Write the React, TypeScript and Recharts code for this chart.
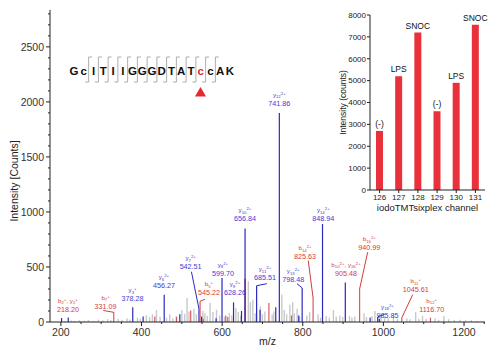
import React from 'react';
import {
  ScatterChart,
  Scatter,
  XAxis,
  YAxis,
  ErrorBar,
  ReferenceLine,
  BarChart,
  Bar,
  LabelList,
} from 'recharts';

const FONT = "'Liberation Sans', Arial, Helvetica, sans-serif";
const AXIS = '#222';
const GRAY = '#c9c9c9';
const BLUE = '#2a2abf';
const RED = '#dc5a5a';
const PURPLE = '#6a1d7c';
const BLUE_TXT = '#3c3cd2';
const RED_TXT = '#d23c3c';
const BAR_RED = '#e8313a';

// ---------------- spectrum data: [m/z, intensity] ----------------
const grayPeaks: [number, number][] = [
  [210, 8], [226, 14], [234, 10], [246, 16], [258, 12], [268, 18], [281, 10], [293, 22],
  [305, 14], [316, 26], [324, 18], [342, 30], [352, 20], [364, 34], [371, 22], [390, 40],
  [397, 30], [412, 60], [420, 45], [427, 70], [437, 110], [446, 50], [462, 40], [470, 70],
  [478, 35], [486, 55], [500, 110], [507, 75], [513, 218], [518, 95], [530, 120], [536, 70],
  [552, 100], [557, 80], [563, 55], [570, 173], [577, 90], [586, 112], [594, 60], [606, 50],
  [618, 80], [624, 60], [634, 127], [640, 90], [646, 60], [665, 369], [670, 180], [676, 200],
  [682, 80], [695, 142], [700, 70], [706, 96], [724, 70], [728, 95], [748, 250], [754, 110],
  [760, 70], [768, 157], [775, 180], [779, 80], [786, 120], [792, 50], [810, 60], [817, 90],
  [838, 70], [844, 40], [858, 55], [866, 40], [876, 110], [883, 50], [892, 60], [899, 45],
  [916, 55], [922, 40], [929, 50], [952, 80], [958, 45], [972, 55], [979, 100], [994, 50],
  [1003, 45], [1012, 35], [1025, 75], [1035, 30], [1058, 35], [1066, 25], [1080, 90],
  [1088, 30], [1097, 55], [1106, 30], [1128, 35], [1137, 20], [1150, 55], [1162, 25],
  [1176, 18], [1190, 20], [1204, 14], [1218, 16], [1232, 10],
];

const bluePeaks: [number, number][] = [
  [201.7, 36], [218.2, 42], [378.28, 133], [404, 51], [456.27, 248], [495, 70], [542.51, 120],
  [549, 50], [585, 35], [599.7, 400], [628.26, 178], [648, 100], [656.84, 850], [685.51, 330],
  [694, 112], [733, 133], [741.86, 1900], [790, 60], [798.48, 310], [848.94, 890], [905.48, 360],
  [967, 40], [985.85, 45], [990, 30],
];

const redPeaks: [number, number][] = [
  [331.09, 90], [433, 51], [487, 45], [522, 105], [545.22, 188], [553, 30], [609, 60], [614, 45],
  [716, 173], [772, 60], [825.63, 218], [940.99, 300], [1045.61, 38], [1116.7, 40],
];

const purplePeaks: [number, number][] = [[656.84, 392]];

// ---------------- ion annotations ----------------
const ionLabels = [
  { mz: 217.4, i: 118, ions: [['b', '2', '+'], ['y', '2', '+']], text: '218.20', series: 'b' },
  { mz: 310.9, i: 142, ions: [['b', '7', '+']], text: '331.09', series: 'b' },
  { mz: 377.9, i: 209, ions: [['y', '3', '+']], text: '378.28', series: 'y' },
  { mz: 455.6, i: 330, ions: [['y', '6', '2+']], text: '456.27', series: 'y' },
  { mz: 521.8, i: 500, ions: [['y', '7', '2+']], text: '542.51', series: 'y' },
  { mz: 567.2, i: 264, ions: [['b', '5', '+']], text: '545.22', series: 'b' },
  { mz: 602, i: 445, ions: [['y', '8', '2+']], text: '599.70', series: 'y' },
  { mz: 631.8, i: 264, ions: [['y', '9', '2+']], text: '628.26', series: 'y' },
  { mz: 656.6, i: 936, ions: [['y', '10', '2+']], text: '656.84', series: 'y' },
  { mz: 706.2, i: 400, ions: [['y', '11', '2+']], text: '685.51', series: 'y' },
  { mz: 741.7, i: 1985, ions: [['y', '12', '2+']], text: '741.86', series: 'y' },
  { mz: 776.4, i: 385, ions: [['y', '13', '2+']], text: '798.48', series: 'y' },
  { mz: 805.5, i: 591, ions: [['b', '14', '2+']], text: '825.63', series: 'b' },
  { mz: 850.9, i: 936, ions: [['y', '14', '2+']], text: '848.94', series: 'y' },
  { mz: 907.2, i: 445, ions: [['b', '10', '2+'], ['y', '16', '2+']], text: '905.48', series: 'b' },
  { mz: 965, i: 673, ions: [['b', '16', '2+']], text: '940.99', series: 'b' },
  { mz: 1010, i: 62, ions: [['y', '18', '2+']], text: '985.85', series: 'y' },
  { mz: 1080, i: 294, ions: [['b', '11', '+']], text: '1045.61', series: 'b' },
  { mz: 1119.9, i: 118, ions: [['b', '12', '+']], text: '1116.70', series: 'b' },
];

const leaders = [
  { from: [305, 105], to: [331.09, 88], series: 'b' },
  { from: [523.8, 457], to: [542.51, 120], series: 'y' },
  { from: [557.3, 207], to: [545.22, 188], series: 'b' },
  { from: [685.51, 330], to: [711, 348], series: 'y' },
  { from: [785.6, 348], to: [798.48, 310], series: 'y' },
  { from: [813.6, 557], to: [825.63, 218], series: 'b' },
  { from: [961, 635], to: [940.99, 300], series: 'b' },
  { from: [985.85, 47], to: [1003, 70], series: 'y' },
  { from: [1072.7, 248], to: [1045.61, 38], series: 'b' },
];

// ---------------- inset data ----------------
const channels = ['126', '127', '128', '129', '130', '131'];
const channelIntensity = [2700, 5200, 7200, 3600, 4900, 7550];
const channelCondition = ['(-)', 'LPS', 'SNOC', '(-)', 'LPS', 'SNOC'];

const sequence = 'GcITIIGGGDTATccAK';
const modifiedIndex = 13;

// ---------------- ticks ----------------
const xTicks: number[] = [];
for (let v = 200; v <= 1250; v += 50) xTicks.push(v);
const yTicks: number[] = [];
for (let v = 0; v <= 2800; v += 100) yTicks.push(v);
const insetTicks = [0, 1000, 2000, 3000, 4000, 5000, 6000, 7000, 8000];

const toPoints = (peaks: [number, number][]) => peaks.map(([mz, i]) => ({ mz, i }));
const stick = (d: any) => {
  const p = d && d.payload ? d.payload : d;
  return [p.i, 0];
};
const Hidden = () => <g />;

const XTick = (props: any) => {
  const { x, y, payload } = props;
  const major = payload.value % 200 === 0;
  return (
    <g>
      <line x1={x} y1={y} x2={x} y2={y + (major ? 4 : 2)} stroke={AXIS} strokeWidth={1} />
      {major && (
        <text x={x} y={y + 13.5} textAnchor="middle" fontSize={10.5} fill="#333">
          {payload.value}
        </text>
      )}
    </g>
  );
};

const YTick = (props: any) => {
  const { x, y, payload } = props;
  const major = payload.value % 500 === 0;
  return (
    <g>
      <line x1={x} y1={y} x2={x - (major ? 4 : 2)} y2={y} stroke={AXIS} strokeWidth={1} />
      {major && (
        <text x={x - 6} y={y + 3.8} textAnchor="end" fontSize={10.5} fill="#333">
          {payload.value}
        </text>
      )}
    </g>
  );
};

const IonLabel = (props: any) => {
  const { cx, cy } = props;
  const p = props.payload ?? props;
  if (cx == null || cy == null || !p || !p.ions) return <g />;
  const color = p.series === 'b' ? RED_TXT : BLUE_TXT;
  const spans: React.ReactNode[] = [];
  p.ions.forEach((ion: string[], k: number) => {
    if (k > 0) spans.push(<tspan key={`c${k}`} dy={2}>{', '}</tspan>);
    spans.push(<tspan key={`b${k}`}>{ion[0]}</tspan>);
    spans.push(
      <tspan key={`s${k}`} fontSize={4.3} dy={1.4}>
        {ion[1]}
      </tspan>
    );
    spans.push(
      <tspan key={`p${k}`} fontSize={4.3} dy={-3.4}>
        {ion[2]}
      </tspan>
    );
  });
  return (
    <g>
      <text x={cx} y={cy - 6.5} textAnchor="middle" fontSize={6.2} fill={color}>
        {spans}
      </text>
      <text x={cx} y={cy + 2.5} textAnchor="middle" fontSize={7.2} fill={color}>
        {p.text}
      </text>
    </g>
  );
};

const peakSeries = [
  { name: 'gray', peaks: grayPeaks, color: GRAY, width: 1.4 },
  { name: 'blue', peaks: bluePeaks, color: BLUE, width: 1.2 },
  { name: 'red', peaks: redPeaks, color: RED, width: 1.2 },
  { name: 'purple', peaks: purplePeaks, color: PURPLE, width: 1.2 },
];

const insetData = channels.map((ch, k) => ({
  ch,
  v: channelIntensity[k],
  cond: channelCondition[k],
}));

export default function App() {
  return (
    <div style={{ position: 'relative', width: 494, height: 354, fontFamily: FONT, background: '#fff' }}>
      <style>{'body{margin:0;}'}</style>
      <ScatterChart width={494} height={354} margin={{ top: 10, right: 9, bottom: 0, left: 0 }}>
        <XAxis
          type="number"
          dataKey="mz"
          domain={[173, 1252]}
          allowDataOverflow
          ticks={xTicks}
          interval={0}
          tick={XTick}
          tickLine={false}
          tickSize={0}
          tickMargin={0}
          height={32}
          axisLine={{ stroke: AXIS }}
          label={{
            content: (lp: any) => {
              const vb = lp.viewBox || {};
              return (
                <text x={vb.x + vb.width / 2} y={vb.y + 23} textAnchor="middle" fontSize={10.5} fill="#222">
                  m/z
                </text>
              );
            },
          }}
        />
        <YAxis
          type="number"
          dataKey="i"
          domain={[0, 2835]}
          allowDataOverflow
          ticks={yTicks}
          interval={0}
          tick={YTick}
          tickLine={false}
          tickSize={0}
          tickMargin={0}
          width={50}
          axisLine={{ stroke: AXIS }}
          label={{
            content: (lp: any) => {
              const vb = lp.viewBox || {};
              const cx = vb.x + 18;
              const cy = vb.y + vb.height / 2 + 15;
              return (
                <text
                  transform={`translate(${cx}, ${cy}) rotate(-90)`}
                  textAnchor="middle"
                  fontSize={10.5}
                  fill="#222"
                >
                  Intensity [Counts]
                </text>
              );
            },
          }}
        />
        {peakSeries.map((s) => (
          <Scatter key={s.name} data={toPoints(s.peaks)} shape={Hidden} isAnimationActive={false}>
            <ErrorBar dataKey={stick} direction="y" width={0} stroke={s.color} strokeWidth={s.width} />
          </Scatter>
        ))}
        {leaders.map((l, k) => (
          <ReferenceLine
            key={k}
            segment={[
              { x: l.from[0], y: l.from[1] },
              { x: l.to[0], y: l.to[1] },
            ]}
            stroke={l.series === 'b' ? RED_TXT : BLUE}
            strokeWidth={1}
            ifOverflow="visible"
          />
        ))}
        <Scatter data={ionLabels} shape={IonLabel} isAnimationActive={false} />
      </ScatterChart>

      <svg
        width={494}
        height={354}
        style={{ position: 'absolute', left: 0, top: 0, pointerEvents: 'none' }}
      >
        {sequence.split('').map((ch, k) => (
          <text
            key={`l${k}`}
            x={74 + k * 9.75}
            y={75}
            textAnchor="middle"
            fontSize={11.5}
            fontWeight="bold"
            fill={k === modifiedIndex ? '#e02a2a' : '#111'}
          >
            {ch}
          </text>
        ))}
        {sequence
          .split('')
          .slice(1, 15)
          .map((_, j) => {
            const gx = 74 + (j + 1.5) * 9.75;
            return (
              <g key={`s${j}`} stroke="#8a8a8a" strokeWidth={0.7} fill="none">
                <polyline points={`${gx + 3.5},57 ${gx},57 ${gx},82 ${gx - 3.5},82`} />
              </g>
            );
          })}
        <polygon points="195,96.5 206,96.5 200.5,87" fill="#e8262e" />
      </svg>

      <div style={{ position: 'absolute', left: 320, top: 0 }}>
        <BarChart width={174} height={230} data={insetData} margin={{ top: 15, right: 9, bottom: 0, left: 0 }}>
          <XAxis
            dataKey="ch"
            interval={0}
            tickSize={3}
            tickMargin={1}
            tick={{ fontSize: 8, fill: '#222' }}
            tickLine={{ stroke: AXIS }}
            axisLine={{ stroke: AXIS }}
            height={40}
            label={{
              content: (lp: any) => {
                const vb = lp.viewBox || {};
                return (
                  <text x={vb.x + vb.width / 2} y={vb.y + 20.5} textAnchor="middle" fontSize={9.5} fill="#222">
                    iodoTMTsixplex channel
                  </text>
                );
              },
            }}
          />
          <YAxis
            type="number"
            domain={[0, 8000]}
            ticks={insetTicks}
            interval={0}
            tickSize={3}
            tickMargin={1}
            tick={{ fontSize: 8, fill: '#222' }}
            tickLine={{ stroke: AXIS }}
            axisLine={{ stroke: AXIS }}
            width={50}
            label={{
              content: (lp: any) => {
                const vb = lp.viewBox || {};
                const cx = vb.x + 26;
                const cy = vb.y + vb.height / 2;
                return (
                  <text
                    transform={`translate(${cx}, ${cy}) rotate(-90)`}
                    textAnchor="middle"
                    fontSize={8.5}
                    fill="#222"
                  >
                    Intensity (counts)
                  </text>
                );
              },
            }}
          />
          <Bar dataKey="v" fill={BAR_RED} barSize={7} isAnimationActive={false}>
            <LabelList dataKey="cond" position="top" offset={4} fontSize={8.5} fill="#111" />
          </Bar>
        </BarChart>
      </div>
    </div>
  );
}
